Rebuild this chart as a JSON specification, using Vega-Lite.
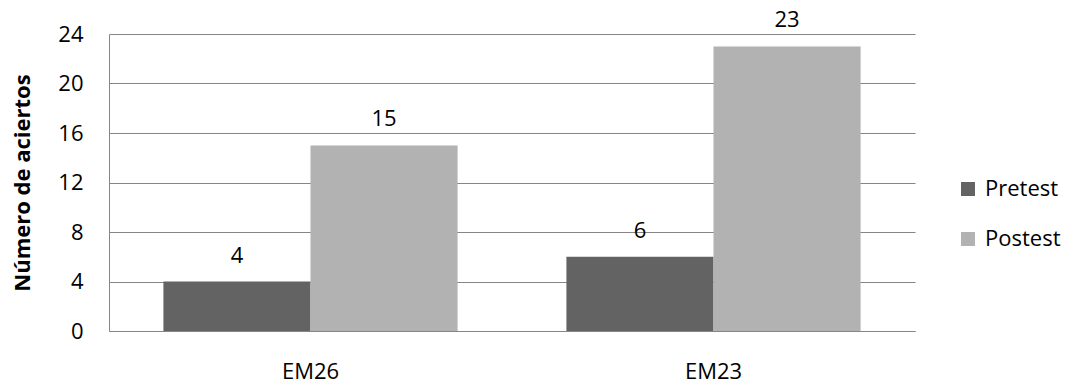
{
  "$schema": "https://vega.github.io/schema/vega-lite/v6.json",
  "width": 806,
  "height": 297,
  "autosize": {"type": "none"},
  "padding": {"left": 109, "top": 34, "right": 158, "bottom": 56},
  "background": "white",
  "config": {
    "font": "Open Sans",
    "view": {"stroke": null}
  },
  "data": {
    "values": [
      {"grupo": "EM26", "prueba": "Pretest", "aciertos": 4},
      {"grupo": "EM26", "prueba": "Postest", "aciertos": 15},
      {"grupo": "EM23", "prueba": "Pretest", "aciertos": 6},
      {"grupo": "EM23", "prueba": "Postest", "aciertos": 23}
    ]
  },
  "encoding": {
    "x": {
      "field": "grupo",
      "type": "nominal",
      "sort": ["EM26", "EM23"],
      "scale": {"paddingInner": 0.27, "paddingOuter": 0.135},
      "axis": {
        "title": null,
        "labelAngle": 0,
        "labelFontSize": 22,
        "labelColor": "#000000",
        "labelPadding": 30,
        "ticks": false,
        "domainColor": "#868686",
        "domainWidth": 1
      }
    },
    "xOffset": {"field": "prueba", "type": "nominal", "sort": ["Pretest", "Postest"]},
    "y": {
      "field": "aciertos",
      "type": "quantitative",
      "scale": {"domain": [0, 24], "nice": false},
      "axis": {
        "title": "Número de aciertos",
        "titleFontSize": 22,
        "titleFontWeight": "bold",
        "titleColor": "#000000",
        "titlePadding": 23,
        "values": [0, 4, 8, 12, 16, 20, 24],
        "labelFontSize": 22,
        "labelColor": "#000000",
        "labelPadding": 26,
        "ticks": false,
        "grid": true,
        "gridColor": "#868686",
        "gridWidth": 1,
        "domainColor": "#868686",
        "domainWidth": 1
      }
    }
  },
  "layer": [
    {
      "mark": {"type": "bar"},
      "encoding": {
        "color": {
          "field": "prueba",
          "type": "nominal",
          "sort": ["Pretest", "Postest"],
          "scale": {"domain": ["Pretest", "Postest"], "range": ["#636363", "#b2b2b2"]},
          "legend": {
            "title": null,
            "orient": "none",
            "legendX": 848,
            "legendY": 144,
            "symbolType": "square",
            "symbolSize": 196,
            "symbolStrokeWidth": 0,
            "labelFontSize": 22,
            "labelColor": "#000000",
            "labelOffset": 6,
            "rowPadding": 28
          }
        }
      }
    },
    {
      "mark": {"type": "text", "baseline": "alphabetic", "dy": -19, "fontSize": 22, "color": "#000000"},
      "encoding": {
        "text": {"field": "aciertos", "type": "quantitative"}
      }
    }
  ]
}
